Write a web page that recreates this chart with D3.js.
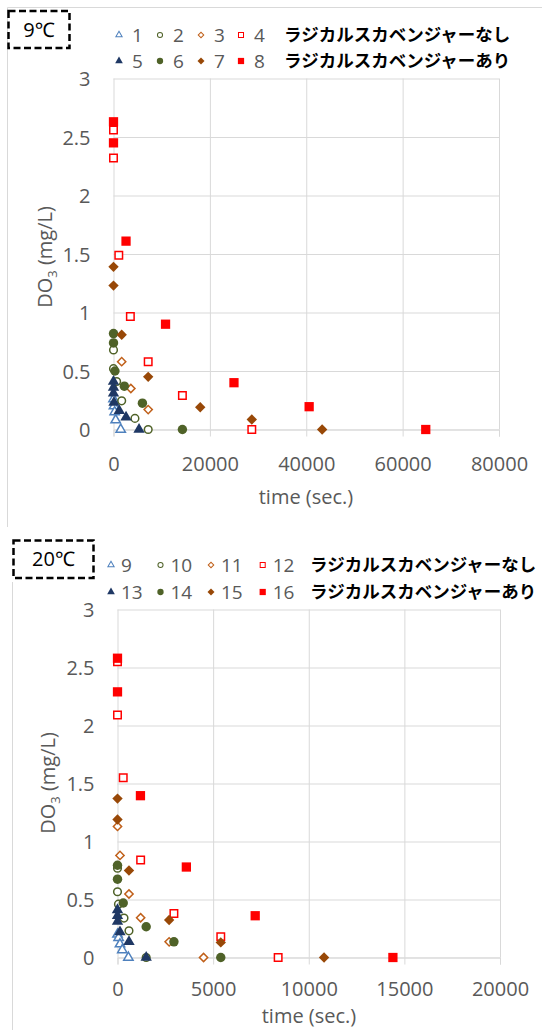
<!DOCTYPE html>
<html>
<head>
<meta charset="utf-8">
<script src="https://cdn.jsdelivr.net/npm/d3@7"></script>
<style>
    body { margin: 0; background: #fff; }
    text { font-family: "Open Sans", "Noto Sans", sans-serif; }
</style>
</head>
<body>
<svg id="chart" width="542" height="1030"></svg>
<script>
// 9℃ series, [time (sec.), DO3 (mg/L)]
var s1 = [[0, 0.26], [100, 0.20], [250, 0.15], [450, 0.08], [1500, 0]];
var s2 = [[0, 0.68], [0, 0.52], [650, 0.41], [1700, 0.245], [4450, 0.095], [7200, 0]];
var s3 = [[1700, 0.58], [3600, 0.35], [7200, 0.17]];
var s4 = [[0, 2.56], [0, 2.32], [1100, 1.49], [3500, 0.965], [7200, 0.58], [14300, 0.29], [28700, 0]];
var s5 = [[0, 0.41], [0, 0.36], [0, 0.31], [100, 0.23], [1200, 0.16], [2600, 0.105], [5300, 0]];
var s6 = [[0, 0.82], [0, 0.74], [300, 0.50], [2250, 0.37], [6000, 0.225], [14300, 0]];
var s7 = [[0, 1.39], [0, 1.23], [1700, 0.81], [7200, 0.45], [18000, 0.19], [28700, 0.085], [43300, 0]];
var s8 = [[0, 2.63], [0, 2.45], [2600, 1.61], [10800, 0.90], [25000, 0.40], [40600, 0.195], [64800, 0]];

// 20℃ series
var s9 = [[0, 0.20], [60, 0.17], [130, 0.115], [250, 0.065], [570, 0]];
var s10 = [[0, 0.77], [0, 0.567], [50, 0.46], [340, 0.34], [600, 0.23], [1500, 0]];
var s11 = [[0, 1.13], [130, 0.88], [600, 0.547], [1210, 0.343], [2700, 0.135], [4500, 0]];
var s12 = [[0, 2.55], [0, 2.09], [300, 1.55], [1210, 0.84], [2950, 0.38], [5400, 0.18], [8400, 0]];
var s13 = [[0, 0.41], [0, 0.36], [0, 0.31], [130, 0.22], [600, 0.135], [1500, 0]];
var s14 = [[0, 0.795], [0, 0.675], [300, 0.47], [1500, 0.265], [2950, 0.135], [5400, 0]];
var s15 = [[0, 1.37], [0, 1.19], [600, 0.75], [2700, 0.323], [5400, 0.13], [10800, 0]];
var s16 = [[0, 2.58], [0, 2.29], [1200, 1.395], [3600, 0.78], [7200, 0.36], [14400, 0]];

var names9 = ['1', '2', '3', '4', '5', '6', '7', '8'];
var names20 = ['9', '10', '11', '12', '13', '14', '15', '16'];
var rowLabels = ['ラジカルスカベンジャーなし', 'ラジカルスカベンジャーあり'];
var xTicks9 = [0, 20000, 40000, 60000, 80000];
var xTicks20 = [0, 5000, 10000, 15000, 20000];
var yTicks = [0, 0.5, 1, 1.5, 2, 2.5, 3];

// marker look for series 1..8 (same for 9..16)
var styles = [
    { shape: 'triangle', open: true, color: '#4F81BD' },
    { shape: 'circle', open: true, color: '#4F6228' },
    { shape: 'diamond', open: true, color: '#C0601A' },
    { shape: 'square', open: true, color: '#FF0000' },
    { shape: 'triangle', open: false, color: '#1F3864' },
    { shape: 'circle', open: false, color: '#4F6228' },
    { shape: 'diamond', open: false, color: '#984807' },
    { shape: 'square', open: false, color: '#FF0000' }
];

var sizes = { triangle: [56, 38], circle: [70, 46], diamond: [54, 34], square: [86, 56] };

var svg = d3.select('#chart');
svg.append('rect').attr('width', 542).attr('height', 1030).attr('fill', '#fff');

function markerPath(shape, area) {
    var type = shape == 'circle' ? d3.symbolCircle : (shape == 'triangle' ? d3.symbolTriangle : d3.symbolSquare);
    return d3.symbol().type(type).size(area)();
}

function placeMarker(sel, st, scale) {
    var area = sizes[st.shape][st.open ? 1 : 0] * scale;
    sel.attr('d', markerPath(st.shape, area))
        .attr('fill', st.open ? '#fff' : st.color)
        .attr('stroke', st.open ? st.color : 'none')
        .attr('stroke-width', st.open ? 1.5 * Math.sqrt(scale) : 0);
}

function drawPanel(p) {
    var g = svg.append('g');

    // chart frame
    p.frame.forEach(function (f) {
        g.append('line').attr('x1', f[0]).attr('y1', f[1]).attr('x2', f[2]).attr('y2', f[3])
            .attr('stroke', '#d9d9d9').attr('stroke-width', 1);
    });

    var x = d3.scaleLinear().domain([0, p.xTicks[p.xTicks.length - 1]]).range([p.left, p.right]);
    var y = d3.scaleLinear().domain([0, 3]).range([p.bottom, p.top]);

    // horizontal grid + y labels
    var ya = g.append('g').attr('transform', 'translate(' + p.left + ',0)')
        .call(d3.axisLeft(y).tickValues(yTicks).tickSize(-(p.right - p.left)).tickPadding(23).tickFormat(function (d) { return d; }));
    ya.select('.domain').remove();
    ya.selectAll('line').attr('stroke', '#d9d9d9');
    ya.selectAll('text').attr('fill', '#595959').style('font-size', '20px').attr('dy', '0.36em');

    // vertical grid
    var xg = g.append('g').attr('transform', 'translate(0,' + p.bottom + ')')
        .call(d3.axisBottom(x).tickValues(p.xTicks).tickSize(-(p.bottom - p.top)).tickFormat(''));
    xg.select('.domain').remove();
    xg.selectAll('line').attr('stroke', '#d9d9d9');

    // x ticks + labels
    var xa = g.append('g').attr('transform', 'translate(0,' + p.bottom + ')')
        .call(d3.axisBottom(x).tickValues(p.xTicks).tickSize(7).tickFormat(d3.format('d')));
    xa.select('.domain').attr('stroke', '#d9d9d9');
    xa.selectAll('line').attr('stroke', '#d9d9d9');
    xa.selectAll('text').attr('fill', '#595959').style('font-size', '20px')
        .attr('y', p.labelDy).attr('dy', '0.36em');

    // axis titles
    var yt = g.append('text')
        .attr('transform', 'translate(' + p.yTitle[0] + ',' + p.yTitle[1] + ') rotate(-90)')
        .attr('text-anchor', 'middle').attr('dy', '0.36em')
        .attr('fill', '#595959').style('font-size', '20px');
    yt.append('tspan').text('DO');
    yt.append('tspan').text('3').style('font-size', '13px').attr('dy', '5');
    yt.append('tspan').text(' (mg/L)').attr('dy', '-5');

    g.append('text').attr('x', p.xTitle[0]).attr('y', p.xTitle[1]).attr('dy', '0.36em')
        .attr('text-anchor', 'middle').attr('fill', '#595959').style('font-size', '20px')
        .text('time (sec.)');

    // points
    p.order.forEach(function (i) {
        var st = styles[i];
        g.append('g').selectAll('path')
            .data(p.series[i])
            .enter().append('path')
            .call(placeMarker, st, 1)
            .attr('transform', function (d) {
                return 'translate(' + x(d[0]) + ',' + y(d[1]) + ')' + (st.shape == 'diamond' ? ' rotate(45)' : '');
            });
    });

    // temperature box
    g.append('rect').attr('x', p.box[0]).attr('y', p.box[1]).attr('width', p.box[2]).attr('height', p.box[3])
        .attr('fill', '#fff').attr('stroke', '#000').attr('stroke-width', 2.5).attr('stroke-dasharray', '7,3.5');
    g.append('text').attr('x', p.box[0] + p.box[2] / 2).attr('y', p.box[1] + p.box[3] / 2).attr('dy', '0.36em')
        .attr('text-anchor', 'middle').style('font-size', '20px').attr('fill', '#000').text(p.label);

    // legend
    styles.forEach(function (st, i) {
        var row = i < 4 ? 0 : 1;
        var mx = p.legendX[i % 4];
        var my = p.legendY[row];
        g.append('path').call(placeMarker, st, 0.45)
            .attr('transform', 'translate(' + mx + ',' + my + ')' + (st.shape == 'diamond' ? ' rotate(45)' : ''));
        g.append('text').attr('x', mx + p.numGap).attr('y', my).attr('dy', '0.36em')
            .attr('fill', '#595959').style('font-size', '19px').text(p.names[i]);
    });
    rowLabels.forEach(function (t, r) {
        g.append('text').attr('x', p.legendText).attr('y', p.legendY[r]).attr('dy', '0.36em')
            .style('font-family', '"Noto Sans CJK JP", sans-serif').style('font-size', '17.5px')
            .style('font-weight', 'bold').attr('fill', '#000').text(t);
    });
}

drawPanel({
    label: '9℃', names: names9, xTicks: xTicks9,
    series: [s1, s2, s3, s4, s5, s6, s7, s8],
    order: [0, 1, 2, 4, 5, 6, 7, 3],
    left: 113.5, right: 499, top: 78.5, bottom: 429.5, labelDy: 34.5,
    yTitle: [45, 257], xTitle: [306, 497],
    box: [8.5, 11, 61, 37],
    legendX: [119, 160, 201, 241], legendY: [35, 61], numGap: 13, legendText: 284,
    frame: [[7.5, 7.5, 542, 7.5], [7.5, 7.5, 7.5, 527]]
});

drawPanel({
    label: '20℃', names: names20, xTicks: xTicks20,
    series: [s9, s10, s11, s12, s13, s14, s15, s16],
    order: [0, 1, 2, 3, 4, 5, 6, 7],
    left: 117.5, right: 500, top: 609.5, bottom: 957.5, labelDy: 31,
    yTitle: [47.5, 783], xTitle: [309, 1016],
    box: [13.5, 540.5, 80, 37.5],
    legendX: [111, 160.5, 211, 262.7], legendY: [565, 592], numGap: 10, legendText: 310,
    frame: [[12.5, 582, 12.5, 1030]]
});
</script>
</body>
</html>
